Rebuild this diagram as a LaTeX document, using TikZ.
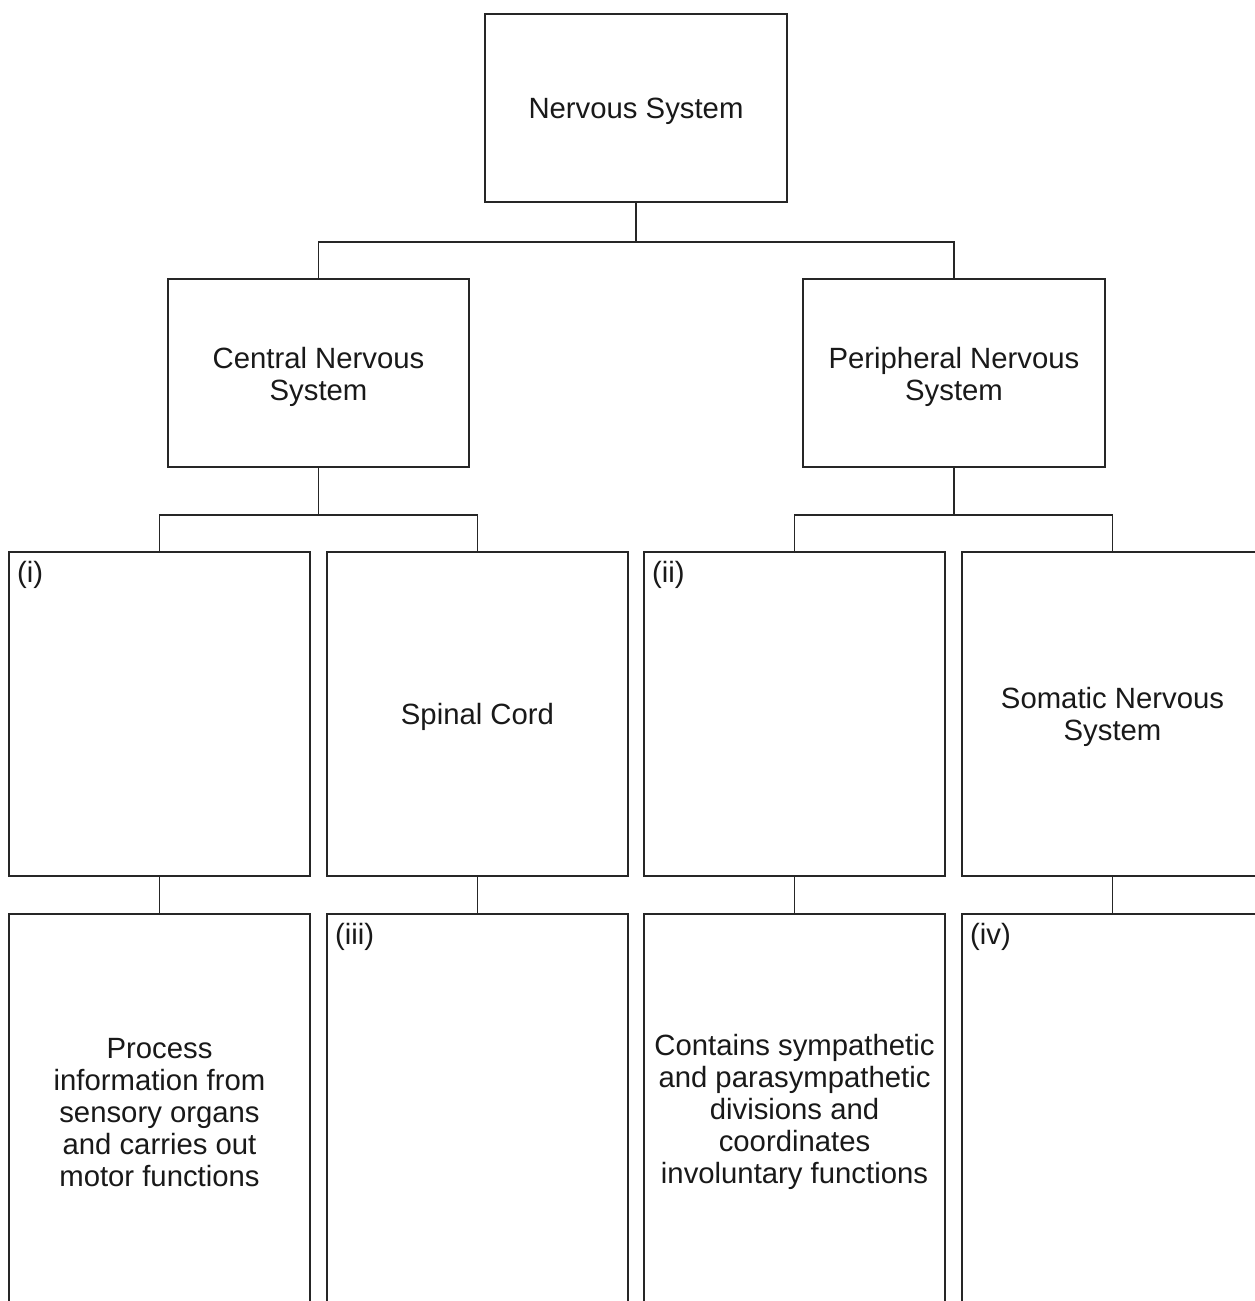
\documentclass[tikz,border=0pt]{standalone}
\usepackage{fontspec}
\setmainfont{Liberation Sans}
\newcommand\toppad[1][27pt]{\rule{0pt}{#1}}
\begin{document}
\begin{tikzpicture}[x=1pt,y={(0,-1pt)},
  box/.style={draw=black!85, line width=1.3pt, inner sep=0pt, outer sep=0pt,
    align=center, text=black!90, font=\fontsize{29.3}{32}\selectfont},
  lbl/.style={inner sep=0pt, anchor=base west, text=black!90, font=\fontsize{29.3}{32}\selectfont},
  conn/.style={draw=black!85, line width=1.3pt}]
\useasboundingbox (0,0) rectangle (1255,1301);
\clip (0,0) rectangle (1255,1301);
\fill[white] (0,0) rectangle (1255,1301);
% level 1
\node[box, minimum width=302pt, minimum height=188pt] (ns) at (636,108) {\toppad Nervous System};
% level 2
\node[box, minimum width=301pt, minimum height=188pt] (cns) at (318.5,373) {\toppad[29pt]Central Nervous\\System};
\node[box, minimum width=302pt, minimum height=188pt] (pns) at (954,373) {\toppad[29pt]Peripheral Nervous\\System};
% level 3
\node[box, minimum width=301pt, minimum height=324pt] (a3) at (159.5,714) {};
\node[box, minimum width=301pt, minimum height=324pt] (b3) at (477.5,714) {\toppad Spinal Cord};
\node[box, minimum width=301pt, minimum height=324pt] (c3) at (794.5,714) {};
\node[box, minimum width=301pt, minimum height=324pt] (d3) at (1112.5,714) {\toppad[28pt]Somatic Nervous\\System};
% level 4
\node[box, minimum width=301pt, minimum height=394pt] (a4) at (159.5,1111) {\toppad[23pt]Process\\information from\\sensory organs\\and carries out\\motor functions};
\node[box, minimum width=301pt, minimum height=394pt] (b4) at (477.5,1111) {};
\node[box, minimum width=301pt, minimum height=394pt] (c4) at (794.5,1111) {\toppad[23pt]Contains sympathetic\\and parasympathetic\\divisions and\\coordinates\\involuntary functions};
\node[box, minimum width=301pt, minimum height=394pt] (d4) at (1112.5,1111) {};
% labels
\node[lbl] (li) at ([xshift=8pt,yshift=-30pt]a3.north west) {(i)};
\node[lbl] (lii) at ([xshift=8pt,yshift=-30pt]c3.north west) {(ii)};
\node[lbl] (liii) at ([xshift=8pt,yshift=-30pt]b4.north west) {(iii)};
\node[lbl] (liv) at ([xshift=8pt,yshift=-30pt]d4.north west) {(iv)};
% connectors
\draw[conn] (ns.south) -- ++(0,40) coordinate (j1);
\draw[conn] (j1) -| (cns.north);
\draw[conn] (j1) -| (pns.north);
\draw[conn] (cns.south) -- ++(0,48) coordinate (j2);
\draw[conn] (j2) -| (a3.north);
\draw[conn] (j2) -| (b3.north);
\draw[conn] (pns.south) -- ++(0,48) coordinate (j3);
\draw[conn] (j3) -| (c3.north);
\draw[conn] (j3) -| (d3.north);
\draw[conn] (a3.south) -- (a4.north);
\draw[conn] (b3.south) -- (b4.north);
\draw[conn] (c3.south) -- (c4.north);
\draw[conn] (d3.south) -- (d4.north);
\end{tikzpicture}
\end{document}
